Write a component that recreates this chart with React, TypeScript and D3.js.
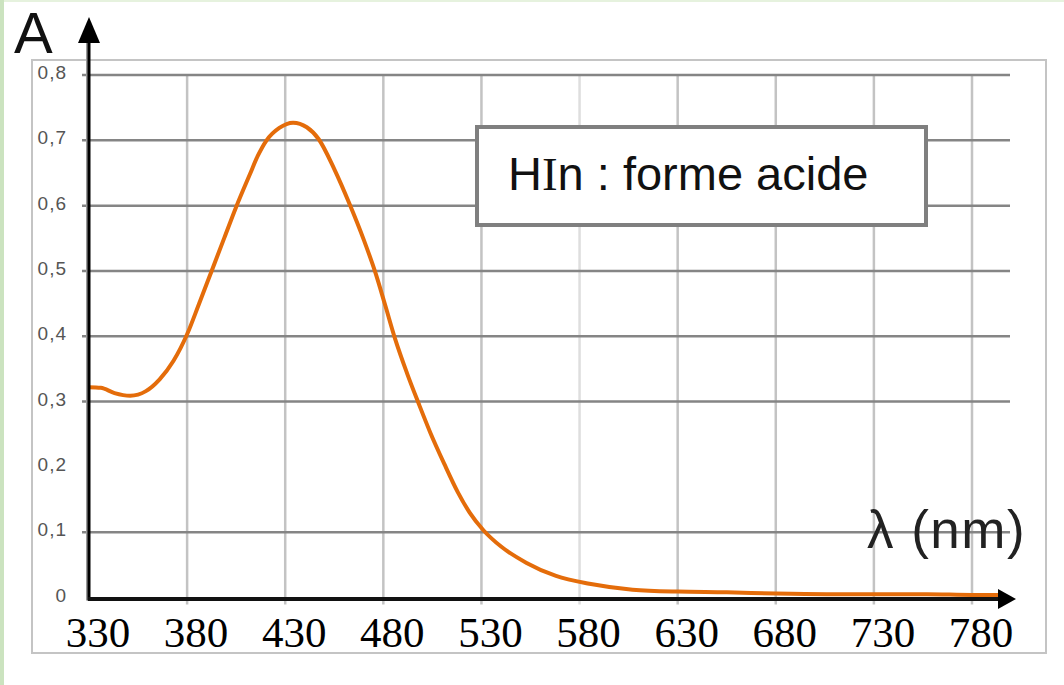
import React from 'react';
import * as d3 from 'd3';

// spectre d'absorption, HIn forme acide
const wavelengths = [330, 336, 343, 351, 359, 366, 373, 380, 386, 392.5, 399, 405, 412, 416, 420.5, 427, 434, 441, 447, 455, 463, 470, 476, 481, 486, 492, 498, 504, 511, 518, 524, 531, 540, 553, 568, 585, 607, 630, 655, 680, 706, 730, 757, 780, 796];
const absorbance = [0.322, 0.321, 0.313, 0.309, 0.316, 0.334, 0.362, 0.403, 0.449, 0.500, 0.551, 0.598, 0.648, 0.676, 0.700, 0.719, 0.727, 0.720, 0.702, 0.656, 0.601, 0.548, 0.497, 0.447, 0.396, 0.344, 0.297, 0.252, 0.205, 0.161, 0.130, 0.103, 0.078, 0.053, 0.033, 0.021, 0.012, 0.009, 0.008, 0.006, 0.005, 0.005, 0.005, 0.004, 0.004];

const xTicks = [330, 380, 430, 480, 530, 580, 630, 680, 730, 780];
const xGrid = [380, 430, 480, 530, 580, 630, 680, 730, 780];
const yTicks = [0, 0.1, 0.2, 0.3, 0.4, 0.5, 0.6, 0.7, 0.8];
const yGrid = [0.1, 0.3, 0.4, 0.5, 0.6, 0.7, 0.8]; // pas de ligne à 0,2 sur l'original
const legendLabel = ['H', 'I', 'n : forme acide'];

const W = 1064, H = 685;

const App = () => {
  const x = d3.scaleLinear().domain([330, 780]).range([89, 972]);
  const y = d3.scaleLinear().domain([0, 0.8]).range([597.5, 75]);
  const pts = wavelengths.map((w, i) => [w, absorbance[i]] as [number, number]);
  const line = d3.line<[number, number]>()
    .x(d => x(d[0]))
    .y(d => y(d[1]))
    .curve(d3.curveMonotoneX);
  const fmt = (v: number) => (v === 0 ? '0' : d3.format('.1f')(v).replace('.', ','));
  const x0 = x(330), y0 = y(0);

  return (
    <svg width={W} height={H} style={{ position: 'absolute', left: 0, top: 0, background: '#fff' }}>
      <rect x={0} y={0} width={W} height={2} fill="#e6f2de" />
      <rect x={0} y={0} width={4} height={H} fill="#cbe3bf" />
      {/* cadre */}
      <rect x={32} y={60} width={1014} height={593} fill="none" stroke="#c4c4c4" strokeWidth={2} />

      {/* grille */}
      {xGrid.map(v => (
        <line key={'gx' + v} x1={x(v)} x2={x(v)} y1={y(0.8)} y2={y0 + 7}
          stroke={v === 580 ? '#dedede' : '#c3c3c3'} strokeWidth={2.5} />
      ))}
      {yGrid.map(v => (
        <line key={'gy' + v} x1={x0 - 7} x2={1010} y1={y(v)} y2={y(v)} stroke="#858585" strokeWidth={2.5} />
      ))}

      {/* graduations */}
      <g fontFamily="'Liberation Sans', Arial, sans-serif" fontSize={19} fill="#555" letterSpacing={1} textAnchor="end">
        {yTicks.map(v => (
          <text key={'ty' + v} x={67} y={y(v) + 4}>{fmt(v)}</text>
        ))}
      </g>
      <g fontFamily="'Liberation Serif', 'Times New Roman', serif" fontSize={43} fill="#000" textAnchor="middle">
        {xTicks.map(v => (
          <text key={'tx' + v} x={x(v) + 9} y={647}>{v}</text>
        ))}
      </g>

      {/* légende */}
      <rect x={477} y={127} width={449} height={98} fill="#fff" stroke="#7f7f7f" strokeWidth={4} />
      <text x={508} y={190} fontFamily="'Liberation Sans', Arial, sans-serif" fontSize={47} fill="#111">
        {legendLabel[0]}
        <tspan fontFamily="'Liberation Serif', serif">{legendLabel[1]}</tspan>
        {legendLabel[2]}
      </text>

      {/* courbe */}
      <path d={line(pts) ?? ''} fill="none" stroke="#e46c0a" strokeWidth={4} strokeLinejoin="round" />

      {/* axes */}
      <line x1={x0 - 2} x2={x0 - 2} y1={42} y2={y0 + 3} stroke="#9a9a9a" strokeWidth={2} />
      <line x1={x0} x2={x0} y1={40} y2={y0 + 3} stroke="#000" strokeWidth={3} />
      <path d={`M${x0},17 L${x0 - 11},43 L${x0 + 11},43 Z`} fill="#000" />
      <line x1={x0 - 1} x2={1000} y1={y0 + 1.5} y2={y0 + 1.5} stroke="#111" strokeWidth={4} />
      <path d={`M1016,${y0 + 1.5} L998,${y0 - 8.5} L998,${y0 + 11.5} Z`} fill="#000" />

      <text x={14} y={53} fontFamily="'Liberation Sans', Arial, sans-serif" fontSize={58} fill="#111">A</text>
      <text x={867} y={548} fontFamily="'Liberation Sans', Arial, sans-serif" fontSize={53} letterSpacing={1.5} fill="#222">λ (nm)</text>
    </svg>
  );
};

export default App;
